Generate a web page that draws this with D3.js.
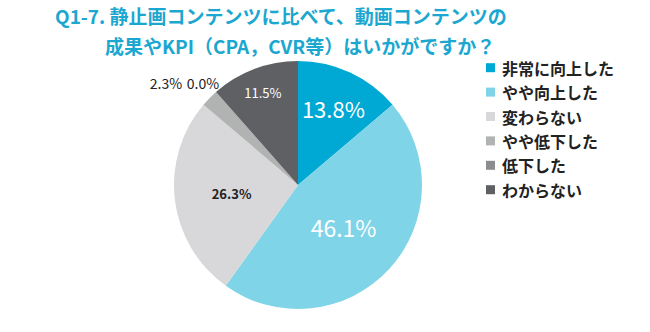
<!DOCTYPE html>
<html><head><meta charset="utf-8">
<script src="https://cdn.jsdelivr.net/npm/d3@7"></script>
<style>body{margin:0;background:#fff}svg{display:block}</style>
</head><body>
<script>
const categories = ["非常に向上した","やや向上した","変わらない","やや低下した","低下した","わからない"];
const values = [13.8, 46.1, 26.3, 2.3, 0.0, 11.5];
const colors = ["#00a9d3","#80d4e8","#d8d8da","#b1b2b2","#8b8c8d","#5f6064"];
const titleLines = ["Q1-7. 静止画コンテンツに比べて、動画コンテンツの","成果やKPI（CPA，CVR等）はいかがですか？"];

const W=650,H=332;
const svg=d3.select("body").append("svg").attr("width",W).attr("height",H);
const font="'Noto Sans CJK JP','Noto Sans',sans-serif";

svg.append("text").attr("x",55).attr("y",15).attr("dominant-baseline","central").attr("font-family",font).attr("font-weight","bold")
  .attr("font-size",19).attr("fill","#1ba7d0").text(titleLines[0]);
svg.append("text").attr("x",105).attr("y",45).attr("dominant-baseline","central").attr("font-family",font).attr("font-weight","bold")
  .attr("font-size",19).attr("fill","#1ba7d0").text(titleLines[1]);

const cx=298, cy=185, r=124;
const pie=d3.pie().sort(null).value(d=>d);
const arcs=pie(values);
const arc=d3.arc().innerRadius(0).outerRadius(r);
const g=svg.append("g").attr("transform",`translate(${cx},${cy})`);
g.selectAll("path").data(arcs).join("path").attr("d",arc).attr("fill",(d,i)=>colors[i]);

// labels
const labelSpec=[
  {r:0.68,size:22,fill:"#fff",weight:"normal"},
  {r:0.5,size:23,fill:"#fff",weight:"normal"},
  {r:0.54,size:13,fill:"#222",weight:"bold"},
  {out:[-132,-102],size:14,fill:"#222",weight:"normal"},
  {out:[-95,-102],size:14,fill:"#222",weight:"normal"},
  {r:0.80,size:13,fill:"#fff",weight:"normal"}
];
arcs.forEach((d,i)=>{
  const s=labelSpec[i];
  let x,y;
  if(s.out){x=s.out[0];y=s.out[1];}
  else{const a=(d.startAngle+d.endAngle)/2; x=Math.sin(a)*r*s.r; y=-Math.cos(a)*r*s.r;}
  g.append("text").attr("x",x).attr("y",y).attr("text-anchor","middle").attr("dominant-baseline","central")
   .attr("font-family",font).attr("font-size",s.size).attr("font-weight",s.weight).attr("fill",s.fill)
   .text(values[i].toFixed(1)+"%");
});

// legend
const lg=svg.append("g");
categories.forEach((c,i)=>{
  const y=67.7+i*24.4;
  lg.append("rect").attr("x",486).attr("y",y-4.5).attr("width",9).attr("height",9).attr("fill",colors[i]);
  lg.append("text").attr("x",502).attr("y",y).attr("dominant-baseline","central").attr("font-family",font)
    .attr("font-weight","bold").attr("font-size",16).attr("fill","#222").text(c);
});
</script>
</body></html>
